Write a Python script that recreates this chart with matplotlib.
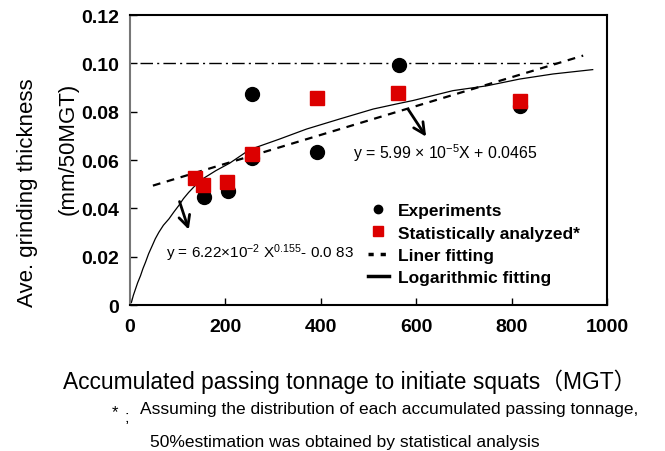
import matplotlib
matplotlib.use("Agg")
import matplotlib.pyplot as plt
from matplotlib.lines import Line2D

plt.rcParams['font.family'] = ['Liberation Sans', 'Noto Sans CJK JP', 'DejaVu Sans']
plt.rcParams['mathtext.fontset'] = 'custom'
plt.rcParams['mathtext.rm'] = 'Liberation Sans'
plt.rcParams['mathtext.it'] = 'Liberation Sans'
plt.rcParams['mathtext.bf'] = 'Liberation Sans:bold'

# experiments (black circles)
exp_x = [155, 205, 256, 256, 393, 563, 817]
exp_y = [0.0447, 0.0470, 0.0873, 0.0610, 0.0634, 0.0994, 0.0825]

# statistically analyzed (red squares)
stat_x = [137, 154, 204, 256, 391, 562, 817]
stat_y = [0.0524, 0.0498, 0.0508, 0.0625, 0.0857, 0.0879, 0.0846]

# liner fitting line (ends)
lin_x = [48, 950]
lin_y = [0.0494, 0.1032]

# logarithmic fitting curve
log_x = [3, 7, 11.5, 16, 22, 27, 32.5, 39, 46.5, 53, 60.5, 70, 81.5, 92, 102, 112, 123,
         137, 151.5, 180, 209, 251, 314, 370, 440, 510, 559, 593, 677, 748, 817, 887, 970]
log_y = [0.0011, 0.0040, 0.0066, 0.0092, 0.0121, 0.0150, 0.0177, 0.0212, 0.0245,
         0.0274, 0.0301, 0.0330, 0.0356, 0.0385, 0.0411, 0.0440, 0.0466, 0.0495,
         0.0521, 0.0556, 0.0587, 0.0643, 0.0687, 0.0728, 0.0770, 0.0811, 0.0832,
         0.0846, 0.0887, 0.0907, 0.0935, 0.0956, 0.0974]

# reference level
ref_x = [20, 895]
ref_y = [0.10, 0.10]

xticks = [0, 200, 400, 600, 800, 1000]
yticks = [0, 0.02, 0.04, 0.06, 0.08, 0.10, 0.12]
ytick_labels = ['0', '0.02', '0.04', '0.06', '0.08', '0.10', '0.12']

red = '#dc0000'

fig = plt.figure(figsize=(6.65, 4.52), dpi=100)
ax = fig.add_axes([0.1955, 0.323, 0.7173, 0.6416])

ax.plot(ref_x, ref_y, color='k', lw=1.0, dashes=[9, 3, 1.5, 3], zorder=2)
ax.plot(lin_x, lin_y, color='k', lw=1.6, dashes=[3.5, 3], zorder=2)
ax.plot(log_x, log_y, color='k', lw=0.9, zorder=2)
ax.plot(exp_x, exp_y, 'o', color='k', ms=10, zorder=3)
ax.plot(stat_x, stat_y, 's', color=red, ms=10.5, zorder=4)

ax.annotate('', xy=(624, 0.0687), xytext=(580, 0.0819),
            arrowprops=dict(arrowstyle='->', lw=2, color='k', mutation_scale=20))
ax.annotate('', xy=(125, 0.0301), xytext=(102, 0.0439),
            arrowprops=dict(arrowstyle='->', lw=2, color='k', mutation_scale=20))

ax.text(467, 0.0633, r'y = 5.99 $\times$ 10$^{-5}$X + 0.0465', fontsize=11.4,
        ha='left', va='center')
ax.text(76, 0.0219, r'y = 6.22$\times$10$^{-2}$ X$^{0.155}$- 0.0 83', fontsize=11,
        ha='left', va='center')

handles = [
    Line2D([], [], ls='none', marker='o', color='k', ms=6),
    Line2D([], [], ls='none', marker='s', color=red, ms=6.5),
    Line2D([], [], color='k', lw=2.5, dashes=[1.5, 2]),
    Line2D([], [], color='k', lw=2.5),
]
labels = ['Experiments', 'Statistically analyzed*', 'Liner fitting', 'Logarithmic fitting']
leg = ax.legend(handles, labels, loc='upper left', bbox_to_anchor=(0.540, 0.568),
                bbox_transform=fig.transFigure, frameon=False, borderpad=0,
                handlelength=1.2, handletextpad=0.55, labelspacing=0.42,
                prop={'size': 12.5, 'weight': 'bold'})

ax.set_xlim(0, 1000)
ax.set_ylim(0, 0.12)
ax.set_xticks(xticks)
ax.set_yticks(yticks)
ax.set_yticklabels(ytick_labels)
ax.tick_params(direction='in', length=5, width=1, labelsize=14, pad=8)
ax.tick_params(axis='x', pad=9)
for lab in ax.get_xticklabels() + ax.get_yticklabels():
    lab.set_fontweight('bold')
for s in ['top', 'right', 'bottom']:
    ax.spines[s].set_linewidth(1.5)
ax.spines['left'].set_color('#777777')
ax.spines['left'].set_linewidth(1.5)

fig.text(27 / 665, 1 - 193 / 452, 'Ave. grinding thickness', rotation=90,
         ha='center', va='center', fontsize=16)
fig.text(68 / 665, 1 - 149 / 452, '(mm/50MGT)', rotation=90,
         ha='center', va='center', fontsize=16)
fig.text(63 / 665, 1 - 382 / 452, 'Accumulated passing tonnage to initiate squats（MGT）',
         ha='left', va='center', fontsize=16.4)

fig.text(115 / 665, 1 - 413 / 452, '*', ha='center', va='center', fontsize=12)
fig.text(127 / 665, 1 - 418 / 452, ';', ha='center', va='center', fontsize=12)
fig.text(140 / 665, 1 - 410 / 452,
         'Assuming the distribution of each accumulated passing tonnage,',
         ha='left', va='center', fontsize=12.5)
fig.text(150 / 665, 1 - 443 / 452,
         '50%estimation was obtained by statistical analysis',
         ha='left', va='center', fontsize=12.5)

fig.savefig('out.png', dpi=100)
